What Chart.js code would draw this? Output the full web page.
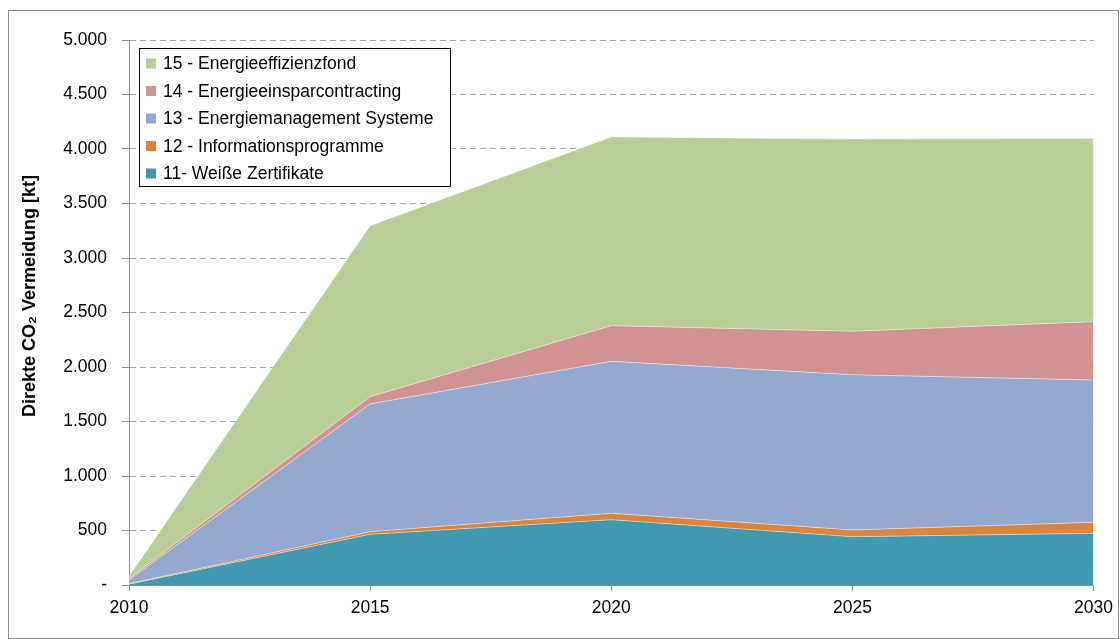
<!DOCTYPE html>
<html>
<head>
<meta charset="utf-8">
<script src="https://cdn.jsdelivr.net/npm/chart.js@4.4.1/dist/chart.umd.min.js"></script>
<style>
  html, body { margin: 0; padding: 0; background: #fff; }
  #wrap { width: 1120px; height: 639px; position: relative; }
</style>
</head>
<body>
<div id="wrap"><canvas id="myChart" width="1120" height="639"></canvas></div>
<script>
// Jahre und Werte (kt)
const years = [2010, 2015, 2020, 2025, 2030];
const weisseZertifikate = [8, 465, 599, 443, 474];
const informationsprogramme = [4, 24, 59, 62, 101];
const energiemanagement = [35, 1172, 1394, 1424, 1306];
const einsparcontracting = [13, 67, 327, 399, 535];
const effizienzfond = [20, 1568, 1731, 1764, 1682];

const seriesNames = [
    '11- Weiße Zertifikate',
    '12 - Informationsprogramme',
    '13 - Energiemanagement Systeme',
    '14 - Energieeinsparcontracting',
    '15 - Energieeffizienzfond'
];
const seriesValues = [weisseZertifikate, informationsprogramme, energiemanagement, einsparcontracting, effizienzfond];
const seriesColors = ['#4198AF', '#DB843D', '#93A9CF', '#D19392', '#B9CD96'];
const yTitle = 'Direkte CO\u2082 Vermeidung [kt]';

const FONT = '"Liberation Sans", Arial, sans-serif';
const FS = 17.5;

function toPoints(vals) {
    return years.map((y, i) => ({ x: y, y: vals[i] }));
}

const datasets = seriesNames.map((name, i) => ({
    label: name,
    data: toPoints(seriesValues[i]),
    backgroundColor: seriesColors[i],
    borderColor: 'rgba(255,255,255,0.45)',
    borderWidth: 1,
    pointRadius: 0,
    tension: 0,
    fill: i === 0 ? 'origin' : '-1'
}));

// grauer Rahmen um das ganze Diagramm + Achsentitel
const framePlugin = {
    id: 'frame',
    beforeDraw(chart) {
        const ctx = chart.ctx;
        ctx.save();
        ctx.fillStyle = '#fff';
        ctx.fillRect(0, 0, chart.width, chart.height);
        ctx.strokeStyle = '#8c8c8c';
        ctx.lineWidth = 1;
        ctx.strokeRect(8.5, 10.5, 1110, 628);
        // y-Titel, etwas oberhalb der Mitte wie in der Vorlage
        ctx.translate(30, 296);
        ctx.rotate(-Math.PI / 2);
        ctx.font = 'bold 18px ' + FONT;
        ctx.fillStyle = '#000';
        ctx.textAlign = 'center';
        ctx.textBaseline = 'middle';
        ctx.fillText(yTitle, 0, 0);
        ctx.restore();
    }
};

// Legende als Kasten oben links, umgekehrte Reihenfolge
const legendBox = {
    id: 'legendBox',
    afterDatasetsDraw(chart) {
        const ctx = chart.ctx;
        const x = 139.5, y = 48.5, w = 311, h = 138;
        ctx.save();
        ctx.fillStyle = '#fff';
        ctx.fillRect(x, y, w, h);
        ctx.strokeStyle = '#000';
        ctx.lineWidth = 1;
        ctx.strokeRect(x, y, w, h);
        ctx.font = FS + 'px ' + FONT;
        ctx.textBaseline = 'middle';
        for (let k = 0; k < seriesNames.length; k++) {
            const i = seriesNames.length - 1 - k;
            const cy = 63.5 + k * 27.5;
            ctx.fillStyle = seriesColors[i];
            ctx.fillRect(146, cy - 5, 10, 10);
            ctx.fillStyle = '#000';
            ctx.fillText(seriesNames[i], 163, cy + 1);
        }
        ctx.restore();
    }
};

const config = {
    type: 'line',
    data: { datasets: datasets },
    options: {
        responsive: false,
        animation: false,
        layout: { padding: { left: 10, right: 24, top: 40, bottom: 0 } },
        plugins: {
            legend: { display: false },
            tooltip: { enabled: false }
        },
        scales: {
            x: {
                type: 'linear',
                min: 2010,
                max: 2030,
                afterFit(s) { s.height = 54; },
                ticks: {
                    stepSize: 5,
                    padding: 7,
                    color: '#000',
                    font: { family: FONT, size: FS },
                    callback: (v) => String(v)
                },
                grid: {
                    display: true,
                    drawOnChartArea: false,
                    drawTicks: true,
                    tickLength: 6,
                    color: '#8c8c8c'
                },
                border: { display: true, color: '#8c8c8c', width: 1 }
            },
            y: {
                stacked: true,
                min: 0,
                max: 5000,
                afterFit(s) { s.width = 119; },
                ticks: {
                    stepSize: 500,
                    padding: 15,
                    color: '#000',
                    font: { family: FONT, size: FS },
                    callback: (v) => v === 0 ? '-' : v.toLocaleString('de-DE')
                },
                grid: {
                    color: '#a6a6a6',
                    drawTicks: true,
                    tickLength: 7,
                    tickColor: '#8c8c8c',
                    tickBorderDash: []
                },
                border: { display: true, color: '#8c8c8c', width: 1, dash: [6, 4] }
            }
        }
    },
    plugins: [framePlugin, legendBox]
};

const myChart = new Chart(document.getElementById('myChart'), config);
</script>
</body>
</html>
